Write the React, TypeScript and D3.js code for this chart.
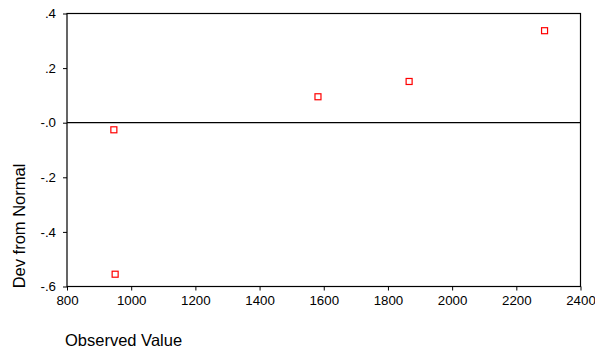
import React, { useEffect, useRef } from "react";
import * as d3 from "d3";

// observed values and their deviation from normal
const observed = [946, 950, 1582, 1866, 2288];
const deviation = [-0.026, -0.555, 0.095, 0.151, 0.337];
const xTicks = [800, 1000, 1200, 1400, 1600, 1800, 2000, 2200, 2400];
const yTicks = [0.4, 0.2, 0, -0.2, -0.4, -0.6];

const W = 595;
const H = 354;

const fmtY = (v: number) => {
  if (v === 0) return "-.0";
  const s = Math.abs(v).toFixed(1).replace(/^0/, "");
  return (v < 0 ? "-" : "") + s;
};

const App = () => {
  const ref = useRef<SVGSVGElement>(null);

  useEffect(() => {
    const svg = d3.select(ref.current);
    svg.selectAll("*").remove();

    const left = 67, right = 580.5, top = 13.5, bottom = 286.5;

    const x = d3.scaleLinear().domain([800, 2400]).range([left, right]);
    const y = d3.scaleLinear().domain([-0.6, 0.4]).range([bottom, top]);

    const font = "'Liberation Sans', Arial, sans-serif";

    // frame
    svg
      .append("rect")
      .attr("x", left)
      .attr("y", top)
      .attr("width", right - left)
      .attr("height", bottom - top)
      .attr("fill", "none")
      .attr("stroke", "#000")
      .attr("stroke-width", 1.2);

    // zero reference line
    svg
      .append("line")
      .attr("x1", left)
      .attr("x2", right)
      .attr("y1", y(0))
      .attr("y2", y(0))
      .attr("stroke", "#000")
      .attr("stroke-width", 1.2);

    const xAxis = svg
      .append("g")
      .attr("transform", `translate(0,${bottom})`)
      .call(d3.axisBottom(x).tickValues(xTicks).tickSize(4).tickPadding(5).tickFormat(d3.format("d")));
    xAxis.select(".domain").remove();

    const yAxis = svg
      .append("g")
      .attr("transform", `translate(${left},0)`)
      .call(d3.axisLeft(y).tickValues(yTicks).tickSize(4).tickPadding(7).tickFormat((d) => fmtY(+d)));
    yAxis.select(".domain").remove();

    svg
      .selectAll("g.tick text")
      .attr("font-family", font)
      .attr("font-size", 13.3)
      .attr("fill", "#000");
    svg.selectAll("g.tick line").attr("stroke", "#000");

    // points
    svg
      .append("g")
      .selectAll("rect")
      .data(observed)
      .join("rect")
      .attr("x", (d) => x(d) - 3)
      .attr("y", (d, i) => y(deviation[i]) - 3)
      .attr("width", 6)
      .attr("height", 6)
      .attr("fill", "#fff")
      .attr("stroke", "#ff0000")
      .attr("stroke-width", 1.2);

    svg
      .append("text")
      .attr("x", 65)
      .attr("y", 346)
      .attr("font-family", font)
      .attr("font-size", 16.5)
      .text("Observed Value");

    svg
      .append("text")
      .attr("transform", `translate(25,226) rotate(-90)`)
      .attr("text-anchor", "middle")
      .attr("font-family", font)
      .attr("font-size", 16.5)
      .text("Dev from Normal");
  }, []);

  return (
    <svg
      ref={ref}
      width={W}
      height={H}
      style={{ position: "fixed", left: 0, top: 0, background: "#fff" }}
    />
  );
};

export default App;
